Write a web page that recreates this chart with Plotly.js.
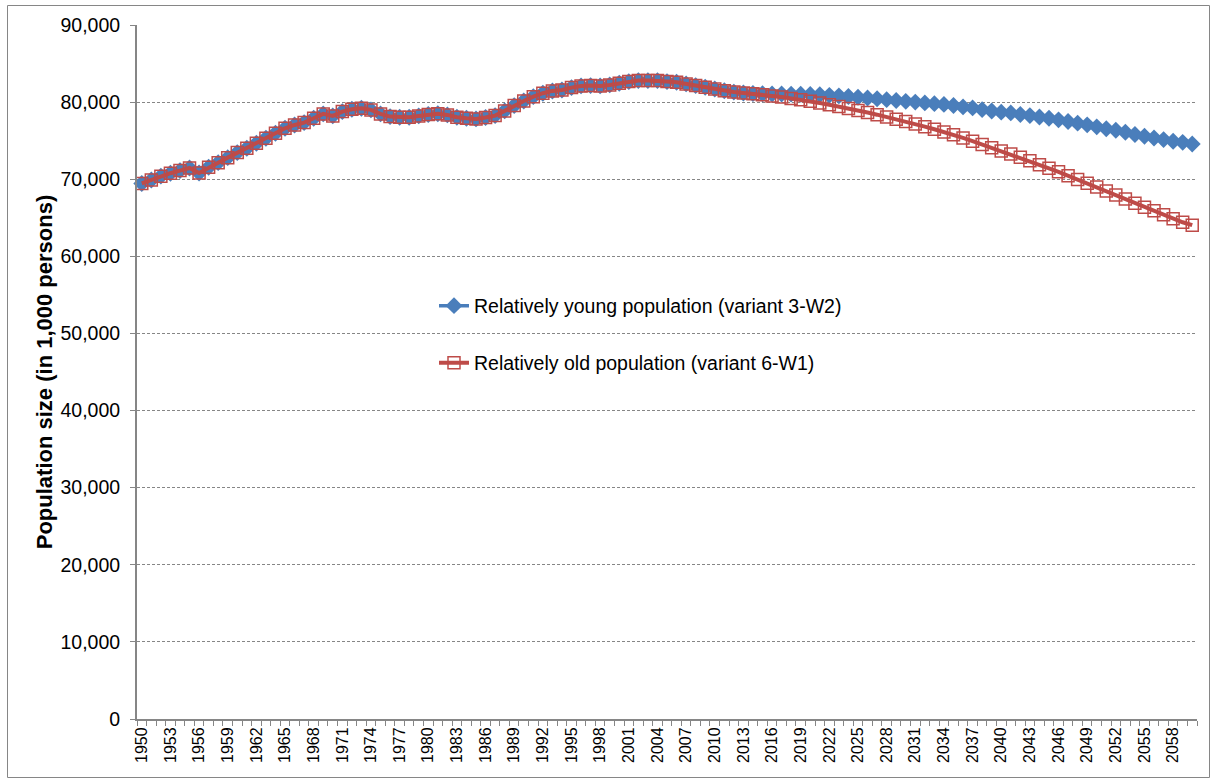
<!DOCTYPE html>
<html>
<head>
<meta charset="utf-8">
<script src="https://cdn.plot.ly/plotly-3.0.1.min.js"></script>
<style>html,body{margin:0;padding:0;background:#fff;}#chart{width:1212px;height:780px;}</style>
</head>
<body>
<div id="chart"></div>
<script>
const years = [1950,1951,1952,1953,1954,1955,1956,1957,1958,1959,1960,1961,1962,1963,1964,1965,1966,1967,1968,1969,
1970,1971,1972,1973,1974,1975,1976,1977,1978,1979,1980,1981,1982,1983,1984,1985,1986,1987,1988,1989,
1990,1991,1992,1993,1994,1995,1996,1997,1998,1999,2000,2001,2002,2003,2004,2005,2006,2007,2008,2009,
2010,2011,2012,2013,2014,2015,2016,2017,2018,2019,2020,2021,2022,2023,2024,2025,2026,2027,2028,2029,
2030,2031,2032,2033,2034,2035,2036,2037,2038,2039,2040,2041,2042,2043,2044,2045,2046,2047,2048,2049,
2050,2051,2052,2053,2054,2055,2056,2057,2058,2059,2060];

const tickYears = [1950,1953,1956,1959,1962,1965,1968,1971,1974,1977,1980,1983,1986,1989,1992,1995,1998,
2001,2004,2007,2010,2013,2016,2019,2022,2025,2028,2031,2034,2037,2040,2043,2046,2049,2052,2055,2058];

// Relatively young population (variant 3-W2), in 1,000 persons
const youngPop = [69450,69900,70400,70780,71120,71460,70800,71550,72150,72800,
73450,74020,74670,75320,75960,76610,77040,77340,77910,78470,
78210,78770,79070,79200,78990,78470,78120,78040,78040,78210,
78400,78500,78340,78040,77910,77820,78000,78250,78860,79550,
80150,80710,81150,81450,81580,81880,82100,82140,82100,82230,
82450,82660,82790,82790,82790,82660,82580,82360,82140,81930,
81700,81480,81300,81180,81120,81080,81060,81050,81030,81010,
81000,80950,80880,80810,80730,80640,80540,80430,80320,80210,
80100,80000,79900,79800,79700,79560,79380,79250,79030,78850,
78700,78600,78400,78250,78060,77900,77700,77480,77270,77050,
76790,76540,76350,76090,75790,75570,75350,75140,74920,74780,74560];

// Relatively old population (variant 6-W1), in 1,000 persons
const oldPop = [69450,69900,70400,70780,71120,71460,70800,71550,72150,72800,
73450,74020,74670,75320,75960,76610,77040,77340,77910,78470,
78210,78770,79070,79200,78990,78470,78120,78040,78040,78210,
78400,78500,78340,78040,77910,77820,78000,78250,78860,79550,
80150,80710,81150,81450,81580,81880,82100,82140,82100,82230,
82450,82660,82790,82790,82790,82660,82580,82360,82140,81930,
81700,81480,81300,81180,81080,80950,80800,80650,80480,80300,
80100,79880,79660,79430,79180,78920,78650,78370,78080,77780,
77470,77150,76820,76480,76130,75760,75360,74940,74510,74070,
73660,73260,72840,72380,71880,71420,70960,70460,69980,69480,
68980,68480,67970,67440,66900,66380,65900,65380,64870,64420,64040];

const seriesNames = ['Relatively young population (variant 3-W2)', 'Relatively old population (variant 6-W1)'];
const yTitle = 'Population size (in 1,000 persons)';

const FONT = 'Arial, "Liberation Sans", sans-serif';
const gray = '#868686';

const traces = [
  {
    x: years, y: youngPop, type: 'scatter', mode: 'lines+markers',
    name: seriesNames[0], legend: 'legend', cliponaxis: false,
    line: {color: '#4A7EBB', width: 3.5},
    marker: {symbol: 'diamond', size: 13, color: '#4A7EBB'}
  },
  {
    x: years, y: oldPop, type: 'scatter', mode: 'lines+markers',
    name: seriesNames[1], legend: 'legend2', cliponaxis: false,
    line: {color: '#BE4B48', width: 4},
    marker: {symbol: 'square-open', size: 12, color: '#BE4B48', line: {width: 1.5, color: '#BE4B48'}}
  }
];

const PL = 137, PR = 1197, PT = 25, PB = 719;
const W = PR - PL, H = PB - PT;
const px = v => (v - PL) / W;
const py = v => (PB - v) / H;

const layout = {
  width: 1212, height: 780,
  margin: {l: PL, r: 1212 - PR, t: PT, b: 780 - PB, pad: 0},
  paper_bgcolor: '#fff', plot_bgcolor: '#fff',
  font: {family: FONT, color: '#000'},
  showlegend: true,
  xaxis: {
    range: [1949.5, 2060.5],
    tickmode: 'array', tickvals: tickYears, ticktext: tickYears.map(String),
    tickangle: -90, tickfont: {size: 16, family: FONT, color: '#000'},
    ticks: '', showgrid: false, zeroline: false,
    showline: true, linecolor: gray, linewidth: 2,
    minor: {tickmode: 'linear', tick0: 1949.5, dtick: 1, ticks: 'outside', ticklen: 5, tickcolor: gray, tickwidth: 1, showgrid: false},
    fixedrange: true
  },
  yaxis: {
    range: [0, 90000], tickmode: 'linear', tick0: 0, dtick: 10000,
    tickformat: ',d', tickfont: {size: 19.5, family: FONT, color: '#000'},
    ticks: 'outside', ticklen: 5, tickcolor: gray, tickwidth: 1, ticklabelstandoff: 6,
    showgrid: true, gridcolor: gray, griddash: '3px,2px', gridwidth: 1,
    zeroline: false, showline: true, linecolor: gray, linewidth: 2,
    title: {text: yTitle, font: {size: 22, family: FONT, color: '#000', weight: 'bold'}, standoff: 2},
    fixedrange: true
  },
  legend: {
    x: px(434), y: py(306), xanchor: 'left', yanchor: 'middle',
    bgcolor: 'rgba(255,255,255,0)', borderwidth: 0,
    font: {size: 19.5, family: FONT, color: '#000'}
  },
  legend2: {
    x: px(434), y: py(363), xanchor: 'left', yanchor: 'middle',
    bgcolor: 'rgba(255,255,255,0)', borderwidth: 0,
    font: {size: 19.5, family: FONT, color: '#000'}
  },
  shapes: [
    {type: 'rect', xref: 'paper', yref: 'paper', x0: px(7.5), x1: px(1209.5), y0: py(777.5), y1: py(5.5),
     line: {color: gray, width: 1}, fillcolor: 'rgba(0,0,0,0)', layer: 'below'}
  ]
};

Plotly.newPlot('chart', traces, layout, {displayModeBar: false, staticPlot: true});
</script>
</body>
</html>
